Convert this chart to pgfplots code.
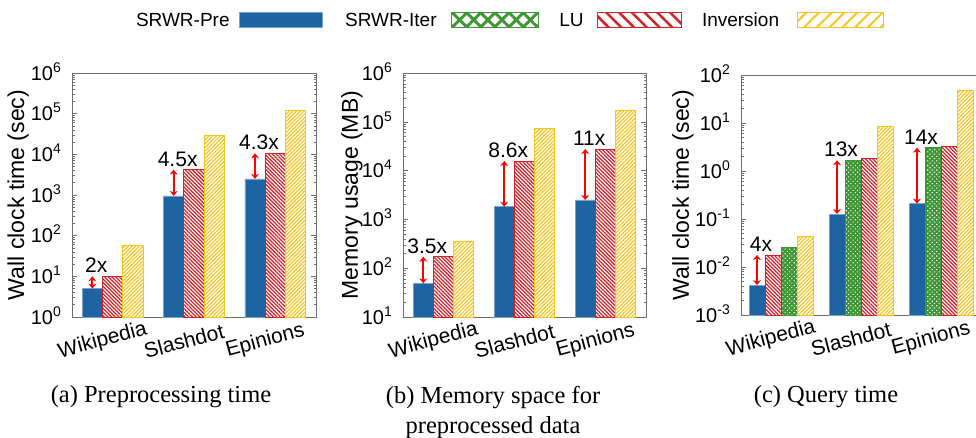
\documentclass[border=0pt]{standalone}
\usepackage{fontspec}
\usepackage{pgfplots}
\pgfplotsset{compat=1.18}
\usetikzlibrary{patterns.meta, arrows.meta}
\newfontfamily\hv{Liberation Sans}
\newfontfamily\capfont{Liberation Serif}

\definecolor{preblue}{RGB}{30,100,162}
\definecolor{preedge}{RGB}{120,160,205}
\definecolor{luRed}{RGB}{214,32,40}
\definecolor{invGold}{RGB}{248,196,30}
\definecolor{iterGreen}{RGB}{62,150,52}
\definecolor{framegray}{RGB}{110,110,110}

% tick labels 10^k in the sans text font
\newcommand\tickexp[1]{\fontsize{20}{20}\selectfont 10\raisebox{8pt}{\fontsize{14}{14}\selectfont #1}}

% speed-up arrow between two bar tops, with its ratio label
\newcommand\gap[4]{%
  \draw[red, line width=1.8pt, {Stealth[length=5pt,width=8pt]}-{Stealth[length=5pt,width=8pt]}]
    (axis cs:#1,#2) -- (axis cs:#1,#3);
  \node[anchor=base, inner sep=0pt, xshift=4pt, yshift=3.5pt,
        font=\hv\fontsize{21}{21}\selectfont] at (axis cs:#1,#3) {#4};
}

\pgfplotsset{
  srwr panel/.style={
    scale only axis, log origin y=infty,
    xmin=0.5, xmax=3.5, xtick={1,2,3},
    xticklabels={Wikipedia,Slashdot,Epinions},
    axis line style={framegray, line width=0.8pt},
    major tick length=5pt, minor tick length=2.5pt,
    every tick/.style={framegray, line width=0.6pt},
    xtick style={draw=none},
    x tick label style={font=\hv\fontsize{21}{21}\selectfont, anchor=center,
                        xshift=-10pt, yshift=-24pt, rotate=15},
    y tick label style={font=\hv, anchor=base east, inner sep=0pt,
                        xshift=-11pt, yshift=-7.2pt},
    ylabel style={font=\hv\fontsize{23}{23}\selectfont, anchor=center},
  },
  prebar/.style={ybar, bar width=0.25, bar shift=0pt, fill=preblue,
                 draw=preedge, line width=0.6pt},
  lubar/.style={ybar, bar width=0.25, bar shift=0pt, fill=white, draw=luRed,
                line width=0.8pt,
                postaction={pattern={Lines[angle=-45,distance=2.6pt,line width=1.25pt]},
                            pattern color=luRed}},
  invbar/.style={ybar, bar width=0.25, bar shift=0pt, fill=white, draw=invGold,
                 line width=0.8pt,
                 postaction={pattern={Lines[angle=45,distance=2.6pt,line width=1.2pt]},
                             pattern color=invGold}},
  iterbar/.style={ybar, bar width=0.25, bar shift=0pt, fill=iterGreen,
                  draw=iterGreen, line width=0.8pt,
                  postaction={pattern={Dots[distance=3.2pt,radius=0.75pt,angle=45]},
                              pattern color=white}},
}

\begin{document}
\begin{tikzpicture}

% ---------------- (a) preprocessing time ----------------
\begin{axis}[srwr panel, ymode=log, at={(72pt,120pt)}, anchor=south west,
    width=244pt, height=244pt,
    ymin=1, ymax=1e6,
    ytick={1,10,100,1000,10000,100000,1000000},
    yticklabels={{\tickexp{0}},{\tickexp{1}},{\tickexp{2}},{\tickexp{3}},
                 {\tickexp{4}},{\tickexp{5}},{\tickexp{6}}},
    ylabel={Wall clock time (sec)},
    ylabel style={at={(axis description cs:-0.221,0.5)}},
    legend columns=4, legend plot pos=right,
    legend style={at={(0.2623,1.2137)}, anchor=west, draw=none, fill=none,
                  inner sep=0pt, outer sep=0pt,
                  font=\hv\fontsize{19}{19}\selectfont,
                  nodes={inner sep=0pt, outer sep=0pt, text height=13.6pt, text depth=4pt},
                  /tikz/column sep=0pt,
                  /tikz/every odd column/.append style={column sep=0pt},
                  /tikz/every even column/.append style={column sep=0pt}},
  ]
  \addlegendimage{legend image code/.code={%
      \draw[fill=preblue, draw=preedge, line width=0.6pt] (0pt,-5.5pt) rectangle (83pt,9.5pt);}}
  \addlegendentry{\makebox[103pt][l]{SRWR-Pre}}
  \addlegendimage{legend image code/.code={%
      \draw[draw=iterGreen, line width=0.8pt, fill=white,
        postaction={pattern={Lines[angle=45,distance=10pt,line width=3pt]}, pattern color=iterGreen},
        postaction={pattern={Lines[angle=-45,distance=10pt,line width=3pt]}, pattern color=iterGreen}]
        (0pt,-5.5pt) rectangle (87pt,9.5pt);}}
  \addlegendentry{\makebox[127pt][r]{SRWR-Iter\hspace{13pt}}}
  \addlegendimage{legend image code/.code={%
      \draw[draw=luRed, line width=0.8pt, fill=white,
        postaction={pattern={Lines[angle=-45,distance=9pt,line width=2.5pt]}, pattern color=luRed}]
        (0pt,-5.5pt) rectangle (84pt,9.5pt);}}
  \addlegendentry{\makebox[57pt][r]{LU\hspace{13pt}}}
  \addlegendimage{legend image code/.code={%
      \draw[draw=invGold, line width=0.8pt, fill=white,
        postaction={pattern={Lines[angle=45,distance=9pt,line width=2pt]}, pattern color=invGold}]
        (0pt,-5.5pt) rectangle (86pt,9.5pt);}}
  \addlegendentry{\makebox[113pt][r]{Inversion\hspace{17pt}}}

  \addplot[prebar, forget plot] coordinates {(0.75,5) (1.75,950) (2.75,2500)};
  \addplot[lubar, forget plot]  coordinates {(1,10) (2,4200) (3,10600)};
  \addplot[invbar, forget plot] coordinates {(1.25,59) (2.25,29500) (3.25,120000)};

  \gap{0.75}{5}{10}{2x}
  \gap{1.75}{950}{4200}{4.5x}
  \gap{2.75}{2500}{10600}{4.3x}
\end{axis}

% ---------------- (b) memory usage ----------------
\begin{axis}[srwr panel, ymode=log, at={(403pt,120pt)}, anchor=south west,
    width=243pt, height=244pt,
    ymin=10, ymax=1e6,
    ytick={10,100,1000,10000,100000,1000000},
    yticklabels={{\tickexp{1}},{\tickexp{2}},{\tickexp{3}},
                 {\tickexp{4}},{\tickexp{5}},{\tickexp{6}}},
    ylabel={Memory usage (MB)},
    ylabel style={at={(axis description cs:-0.210,0.5)}},
  ]
  \addplot[prebar] coordinates {(0.75,49) (1.75,1820) (2.75,2500)};
  \addplot[lubar]  coordinates {(1,172) (2,15700) (3,27700)};
  \addplot[invbar] coordinates {(1.25,361) (2.25,72000) (3.25,175000)};

  \gap{0.75}{49}{172}{3.5x}
  \gap{1.75}{1820}{15700}{8.6x}
  \gap{2.75}{2500}{27700}{11x}
\end{axis}

% ---------------- (c) query time ----------------
\begin{axis}[srwr panel, ymode=log, at={(741pt,122pt)}, anchor=south west,
    width=240pt, height=240pt,
    ymin=1e-3, ymax=100,
    ytick={0.001,0.01,0.1,1,10,100},
    yticklabels={{\tickexp{-3}},{\tickexp{-2}},{\tickexp{-1}},
                 {\tickexp{0}},{\tickexp{1}},{\tickexp{2}}},
    ylabel={Wall clock time (sec)},
    ylabel style={at={(axis description cs:-0.242,0.5)}},
  ]
  % bars in each group are ordered by value
  \addplot[prebar, bar width=0.2]  coordinates {(0.7,0.0042) (1.7,0.127) (2.7,0.209)};
  \addplot[iterbar, bar width=0.2] coordinates {(1.1,0.0257) (1.9,1.67) (2.9,3.06)};
  \addplot[lubar, bar width=0.2]   coordinates {(0.9,0.0178) (2.1,1.86) (3.1,3.27)};
  \addplot[invbar, bar width=0.2]  coordinates {(1.3,0.0435) (2.3,8.66) (3.3,48.7)};

  \gap{0.7}{0.0042}{0.0178}{4x}
  \gap{1.7}{0.127}{1.67}{13x}
  \gap{2.7}{0.209}{3.06}{14x}
\end{axis}

% sub-figure captions
\node[font=\capfont\fontsize{24.5}{30}\selectfont] at (161pt,40pt) {(a) Preprocessing time};
\node[font=\capfont\fontsize{24.5}{30}\selectfont, align=center] at (493pt,25pt)
  {(b) Memory space for\\preprocessed data};
\node[font=\capfont\fontsize{24.5}{30}\selectfont] at (826pt,40pt) {(c) Query time};

\pgfresetboundingbox
\useasboundingbox (0pt,0pt) rectangle (976pt,437pt);
\end{tikzpicture}
\end{document}
